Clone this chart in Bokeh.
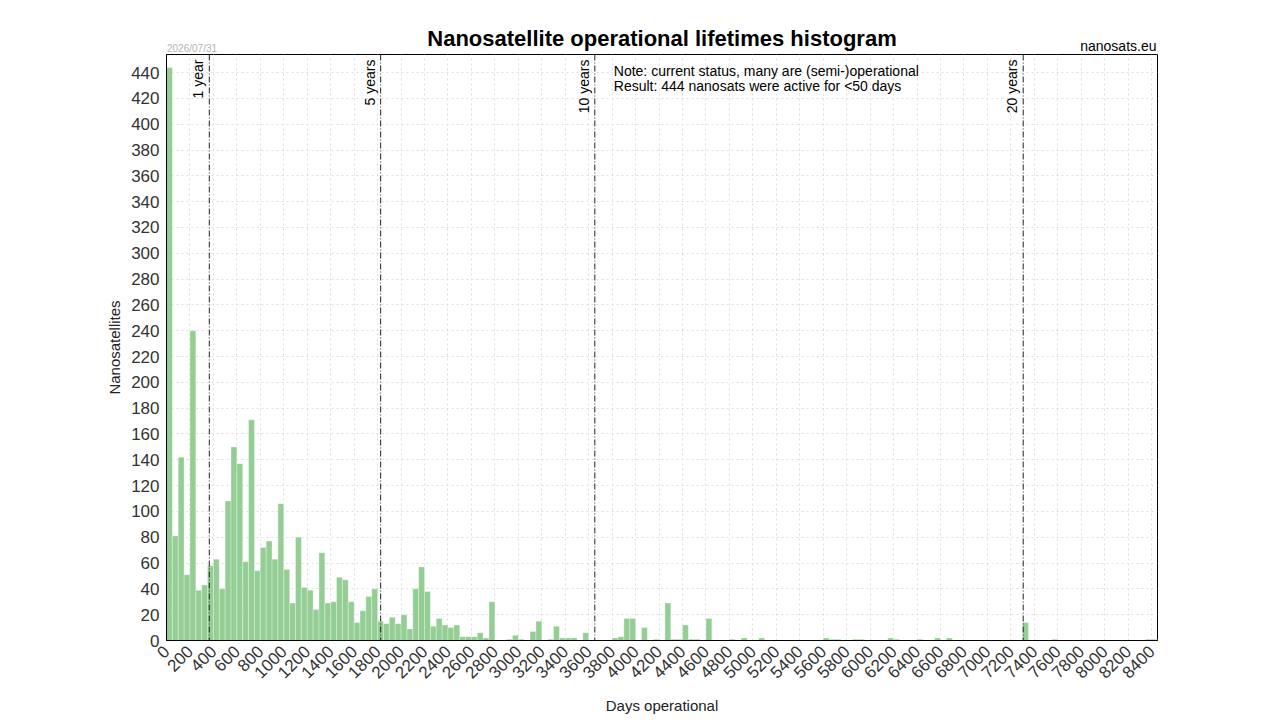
import math
from bokeh.plotting import figure
from bokeh.layouts import column
from bokeh.models import Range1d, FixedTicker, Label, Span, ColumnDataSource
from bokeh.core.properties import value
from bokeh.embed import file_html
from bokeh.resources import INLINE

# ---- data (bins of 50 days) ----
bin_width = 50
counts = [
    444, 81, 142, 51, 240, 39, 43, 58, 63, 40,
    108, 150, 137, 61, 171, 54, 72, 77, 63, 106,
    55, 29, 80, 41, 39, 24, 68, 29, 30, 49,
    47, 30, 14, 23, 34, 40, 15, 13, 18, 13,
    20, 9, 40, 57, 38, 11, 17, 12, 10, 12,
    3, 3, 3, 6, 2, 30, 0, 0, 1, 4,
    1, 0, 7, 15, 0, 1, 11, 2, 2, 2,
    0, 6, 0, 0, 0, 0, 2, 3, 17, 17,
    0, 10, 0, 1, 0, 29, 1, 1, 12, 1,
    1, 0, 17, 0, 0, 0, 1, 0, 2, 0,
    0, 2, 0, 0, 0, 0, 0, 0, 0, 0,
    0, 0, 2, 1, 1, 0, 0, 1, 1, 0,
    0, 0, 0, 2, 1, 0, 0, 0, 1, 0,
    0, 2, 0, 2, 0, 0, 0, 0, 0, 0,
    0, 0, 0, 0, 0, 0, 14, 0, 0, 0,
    0, 1, 0, 0, 0, 0, 0, 0, 0, 0,
    0, 0, 0, 0, 0, 0, 0, 1, 1,
]
year_days = [365, 1826, 3652, 7305]
year_labels = ["1 year", "5 years", "10 years", "20 years"]
x_ticks = list(range(0, 8401, 200))
y_ticks = list(range(0, 441, 20))
title_text = "Nanosatellite operational lifetimes histogram"
note_lines = ["Note: current status, many are (semi-)operational",
              "Result: 444 nanosats were active for <50 days"]
date_text = "2026/07/31"
site_text = "nanosats.eu"

X_MAX = 8450
Y_MAX = 454
FONT = "Liberation Sans"

BORDER_L = 166
FRAME_W = 991
FRAME_H = 586
BORDER_R = 60
HEADER_H = 54
TOTAL_W = BORDER_L + FRAME_W + BORDER_R

# ---- header (texts above the plot frame); x in page pixels of the frame ----
hdr = figure(width=TOTAL_W, height=HEADER_H,
             x_range=Range1d(BORDER_L, BORDER_L + FRAME_W),
             y_range=Range1d(HEADER_H, 0),
             x_axis_type=None, y_axis_type=None,
             min_border=0, min_border_left=BORDER_L, min_border_right=BORDER_R,
             min_border_top=0, min_border_bottom=0,
             output_backend="svg", toolbar_location=None)
hdr.outline_line_color = None
hdr.background_fill_color = "white"
hdr.border_fill_color = "white"
hdr.text(x=[BORDER_L + FRAME_W / 2], y=[38], text=[title_text],
         text_align="center", text_baseline="alphabetic",
         text_font=value(FONT), text_font_size="22px",
         text_font_style="bold", text_color="black")
hdr.text(x=[BORDER_L + FRAME_W - 1], y=[45.5], text=[site_text],
         text_align="right", text_baseline="alphabetic",
         text_font=value(FONT), text_font_size="14px", text_color="black")
hdr.text(x=[BORDER_L + 0.5], y=[47.5], text=[date_text],
         text_align="left", text_baseline="alphabetic",
         text_font=value(FONT), text_font_size="10px", text_color="#b4b4b4")

# ---- main histogram ----
left = [i * bin_width for i in range(len(counts))]
right = [l + bin_width for l in left]
src = ColumnDataSource(dict(left=left, right=right, top=counts))

p = figure(frame_width=FRAME_W, frame_height=FRAME_H,
           min_border_left=BORDER_L, min_border_top=0,
           min_border_right=BORDER_R, min_border_bottom=80,
           x_range=Range1d(0, X_MAX), y_range=Range1d(0, Y_MAX),
           output_backend="svg", toolbar_location=None)
p.background_fill_color = "white"
p.border_fill_color = "white"
p.outline_line_color = "black"
p.outline_line_width = 1

p.quad(left="left", right="right", top="top", bottom=0, source=src,
       fill_color="#94ce94", fill_alpha=1.0,
       line_color="white", line_width=0.5, line_alpha=0.6)

# grids
p.xgrid.ticker = FixedTicker(ticks=x_ticks)
p.ygrid.ticker = FixedTicker(ticks=y_ticks)
for g in (p.xgrid, p.ygrid):
    g.grid_line_color = "#dedede"
    g.grid_line_dash = "2 3"
    g.grid_line_width = 1

# axes
p.xaxis.ticker = FixedTicker(ticks=x_ticks)
p.yaxis.ticker = FixedTicker(ticks=y_ticks)
for ax in (p.xaxis[0], p.yaxis[0]):
    ax.major_tick_out = 0
    ax.major_tick_in = 0
    ax.minor_tick_out = 0
    ax.minor_tick_in = 0
    ax.axis_line_color = "black"
    ax.major_label_text_font = FONT
    ax.major_label_text_font_size = "17px"
    ax.major_label_text_color = "#333333"
    ax.axis_label_text_font = FONT
    ax.axis_label_text_font_size = "15px"
    ax.axis_label_text_font_style = "normal"
    ax.axis_label_text_color = "#222222"

p.xaxis.axis_label = "Days operational"
p.xaxis.major_label_orientation = math.pi / 4
p.xaxis.major_label_standoff = 8
p.xaxis.axis_label_standoff = 10
p.yaxis.axis_label = "Nanosatellites"
p.yaxis.major_label_standoff = 7
p.yaxis.axis_label_standoff = 5

# year marker lines and labels
for d, lab in zip(year_days, year_labels):
    p.add_layout(Span(location=d, dimension="height", line_color="#222222",
                      line_width=1, line_dash="6 2 1 2"))
    p.add_layout(Label(x=d, y=Y_MAX, x_offset=-3, y_offset=-5,
                       angle=math.pi / 2, text=lab, text_align="right",
                       text_baseline="bottom", text_font=FONT,
                       text_font_size="14px", text_color="black"))

# note
for k, line in enumerate(note_lines):
    p.add_layout(Label(x=3814, y=Y_MAX, y_offset=-16 - 15 * k, text=line,
                       text_align="left", text_baseline="alphabetic",
                       text_font=FONT, text_font_size="14px", text_color="black"))

layout = column(hdr, p, spacing=0)
open("out.html", "w").write(file_html(layout, INLINE))
